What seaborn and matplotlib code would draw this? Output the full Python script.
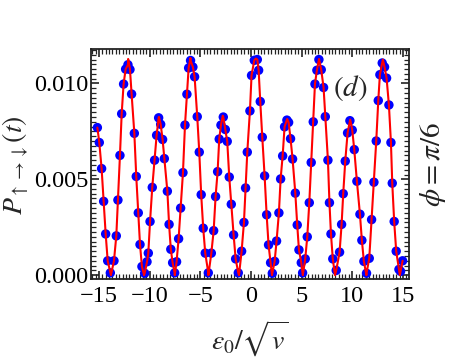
import numpy as np
import pandas as pd
import matplotlib
matplotlib.use('Agg')
import matplotlib.pyplot as plt
import seaborn as sns
from matplotlib.ticker import MultipleLocator, FormatStrFormatter

# dots (numerical result)
eps_dots = [
    -15.16, -14.97, -14.74, -14.54, -14.34, -14.14, -13.88, -13.52, -13.29, -13.13,
    -12.93, -12.76, -12.57, -12.37, -12.14, -11.94, -11.78, -11.51, -11.32, -11.12,
    -10.95, -10.76, -10.49, -10.26, -10.13, -9.96, -9.74, -9.51, -9.31, -9.11,
    -8.91, -8.72, -8.55, -8.25, -8.08, -7.91,
    -7.73, -7.53, -7.34, -7.14, -6.94, -6.71, -6.51, -6.32, -6.15, -5.96,
    -5.73, -5.56, -5.30, -5.10, -4.91, -4.71, -4.51, -4.21, -3.91, -3.68,
    -3.49, -3.29, -3.13, -2.96, -2.73, -2.53, -2.34, -2.14, -1.94, -1.71,
    -1.51, -1.25, -0.92, -0.69, -0.53, -0.36, -0.10, 0.06,
    0.33, 0.63, 0.76, 0.92, 1.12, 1.35, 1.55, 1.74, 1.94, 2.11,
    2.34, 2.53, 2.76, 2.93, 3.13, 3.32, 3.55, 3.72, 3.91, 4.11,
    4.38, 4.57, 4.74, 4.97, 5.10, 5.36, 5.56, 5.76, 5.95, 6.15,
    6.32, 6.51, 6.71, 6.94, 7.17, 7.34, 7.60, 7.75, 7.90, 8.08,
    8.42, 8.75, 8.95, 9.11, 9.31, 9.54, 9.77, 10.00, 10.20, 10.46,
    10.76, 10.95, 11.15, 11.41, 11.68, 11.91, 12.14, 12.37, 12.57, 12.73,
    12.96, 13.19, 13.39, 13.62, 13.82, 13.95, 14.14, 14.34, 14.61, 14.77,
    14.97,
]
p_dots = [
    0.00770, 0.00692, 0.00556, 0.00385, 0.00215, 0.00075, 0.00012, 0.00075, 0.00205, 0.00392,
    0.00625, 0.00842, 0.00997, 0.01075, 0.01098, 0.01073, 0.00945, 0.00740, 0.00515, 0.00325,
    0.00160, 0.00045, 0.00010, 0.00070, 0.00115, 0.00280, 0.00458, 0.00600, 0.00730, 0.00821,
    0.00787, 0.00708, 0.00608, 0.00438, 0.00265, 0.00135,
    0.00065, 0.00012, 0.00070, 0.00190, 0.00350, 0.00535, 0.00783, 0.00944, 0.01081, 0.01120,
    0.01086, 0.01035, 0.00827, 0.00642, 0.00420, 0.00245, 0.00115, 0.00012, 0.00115, 0.00232,
    0.00410, 0.00540, 0.00710, 0.00783, 0.00825, 0.00760, 0.00698, 0.00512, 0.00370, 0.00210,
    0.00085, 0.00012, 0.00125, 0.00275, 0.00455, 0.00642, 0.00857, 0.01042,
    0.01121, 0.01125, 0.01069, 0.00906, 0.00720, 0.00518, 0.00315, 0.00158, 0.00065, 0.00010,
    0.00072, 0.00178, 0.00325, 0.00502, 0.00622, 0.00774, 0.00809, 0.00797, 0.00712, 0.00606,
    0.00428, 0.00262, 0.00132, 0.00065, 0.00012, 0.00085, 0.00200, 0.00378, 0.00588, 0.00800,
    0.00997, 0.01069, 0.01125, 0.01072, 0.00979, 0.00827, 0.00600, 0.00378, 0.00215, 0.00085,
    0.00025, 0.00120, 0.00265, 0.00425, 0.00595, 0.00742, 0.00806, 0.00757, 0.00655, 0.00490,
    0.00318, 0.00182, 0.00072, 0.00010, 0.00088, 0.00290, 0.00485, 0.00700, 0.00911, 0.01046,
    0.01107, 0.01086, 0.01028, 0.00888, 0.00692, 0.00480, 0.00280, 0.00125, 0.00030, 0.00020,
    0.00075,
]

# turning points of the red curve
eps_turn = [-13.82, -12.12, -10.55, -9.08, -7.52, -5.97, -4.20, -2.78, -1.18, 0.48,
            2.08, 3.58, 5.12, 6.72, 8.30, 9.80, 11.40, 13.02, 14.70]
p_turn = [0.0, 0.01128, 0.0, 0.00826, 0.0, 0.01133, 0.0, 0.00832, 0.0, 0.01130,
          0.0, 0.00815, 0.0, 0.01128, 0.0, 0.00812, 0.0, 0.01125, 0.0]

dots = pd.DataFrame({'eps': eps_dots, 'P': p_dots})
curve = pd.concat([dots, pd.DataFrame({'eps': eps_turn, 'P': p_turn})]).sort_values('eps')

sns.set_style('ticks')
plt.rcParams['font.family'] = ['Liberation Serif', 'DejaVu Serif']
plt.rcParams['mathtext.fontset'] = 'stix'

fig = plt.figure(figsize=(4.52, 3.6), dpi=100)
ax = fig.add_axes([0.2024, 0.225, 0.7024, 0.6389])

sns.scatterplot(data=dots, x='eps', y='P', ax=ax, color='#0000ff', s=46,
                edgecolor='none', zorder=2)
sns.lineplot(data=curve, x='eps', y='P', ax=ax, color='#ff0000', lw=1.5,
             sort=True, estimator=None, zorder=3)

ax.set_xlim(-15.74, 15.6)
ax.set_ylim(-0.0002, 0.0118)
ax.xaxis.set_major_locator(MultipleLocator(5))
ax.xaxis.set_minor_locator(MultipleLocator(1 / 3))
ax.yaxis.set_major_locator(MultipleLocator(0.005))
ax.yaxis.set_minor_locator(MultipleLocator(0.00025))
ax.yaxis.set_major_formatter(FormatStrFormatter('%.3f'))

ax.tick_params(which='both', direction='in', top=True, right=True, colors='#222222')
ax.tick_params(which='major', length=6, width=1.2, labelsize=17.5, labelcolor='black')
ax.tick_params(axis='x', which='major', pad=5)
ax.tick_params(axis='y', which='major', pad=2.5)
ax.tick_params(which='minor', length=3.5, width=0.9)
for sp in ax.spines.values():
    sp.set_linewidth(1.3)
    sp.set_color('#222222')

ax.set_xlabel(r'$\varepsilon_0/\sqrt{v}$', fontsize=20)
ax.set_ylabel(r'$P_{\uparrow\rightarrow\downarrow}(t)$', fontsize=20)
ax.xaxis.set_label_coords(0.5, -0.175)
ax.yaxis.set_label_coords(-0.19, 0.496)

ax.text(0.814, 0.83, r'$(d)$', transform=ax.transAxes, fontsize=21,
        ha='center', va='center')
ax.text(1.075, 0.496, r'$\phi=\pi/6$', transform=ax.transAxes, fontsize=21,
        rotation=90, ha='center', va='center', color='#222222')

fig.savefig('out.png', dpi=100)
